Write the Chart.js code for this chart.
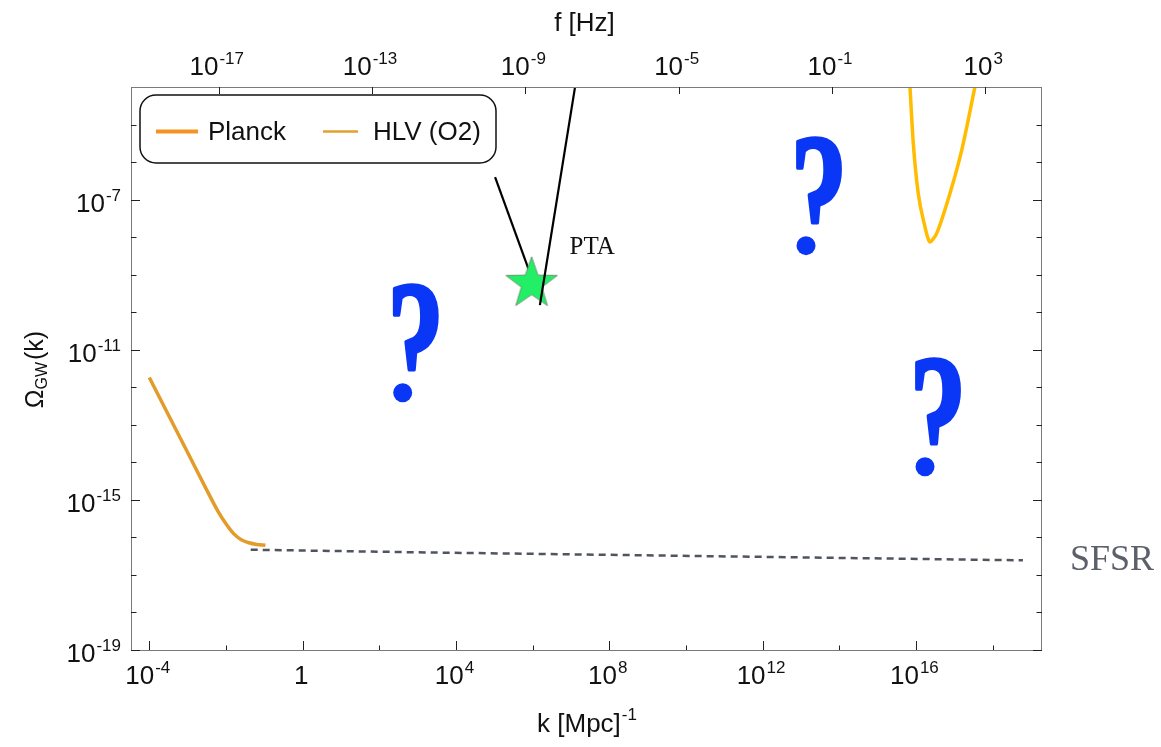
<!DOCTYPE html>
<html><head><meta charset="utf-8">
<script src="https://cdn.jsdelivr.net/npm/chart.js@4/dist/chart.umd.min.js"></script>
<style>html,body{margin:0;padding:0;background:#fff;}#wrap{width:1161px;height:747px;position:relative;}</style>
</head><body><div id="wrap"><canvas id="c" width="1161" height="747"></canvas></div>
<script>
// ---------- data (k in Mpc^-1, Omega_GW) ----------
const planckK = [1e-4, 3.16e-4, 1e-3, 3.16e-3, 6.31e-3, 1e-2, 1.58e-2, 2.51e-2, 3.98e-2, 6.31e-2, 0.107];
const planckOmega = [1.82e-12, 1.82e-13, 1.82e-14, 1.82e-15, 4.8e-16, 2.3e-16, 1.26e-16, 8.7e-17, 7.2e-17, 6.5e-17, 6.2e-17];
const sfsrK = [0.0442, 1585, 6.2e18];
const sfsrOmega = [4.7e-17, 3.98e-17, 2.45e-17];
const hlvK = [6.92e15, 8.55e15, 1.15e16, 1.73e16, 2.07e16, 2.33e16, 2.82e16, 3.48e16, 7.76e16, 1.57e17, 3.63e17];
const hlvOmega = [1.26e-4, 3.16e-6, 1.48e-7, 1.86e-8, 9.3e-9, 7.4e-9, 8.9e-9, 1.26e-8, 1.48e-7, 2.09e-6, 1.26e-4];
const ptaLine1K = [1.05e5, 8.55e5];
const ptaLine1Omega = [3.98e-7, 1.1e-9];
const ptaLine2K = [1.28e7, 1.55e6];
const ptaLine2Omega = [1e-4, 1.55e-10];
const ptaStarK = [9.42e5];
const ptaStarOmega = [5.71e-10];
const questionK = [408, 1.36e13, 1.73e16];
const questionOmega = [3.98e-13, 3.31e-9, 4.24e-15];
// ticks
const kMajorExp = [-4, 0, 4, 8, 12, 16];
const kMinorExp = [-2, 2, 6, 10, 14, 18];
const omegaMajorExp = [-7, -11, -15, -19];
const omegaMinorExp = [-5, -6, -8, -9, -10, -12, -13, -14, -16, -17, -18];
const fMajorExp = [-17, -13, -9, -5, -1, 3];
const fPerK = 1.546e-15; // Hz per Mpc^-1
const kMin = 3.33e-5, kMax = 1.95e19, omegaMin = 1e-19, omegaMax = 1e-4;
const legendLabels = ['Planck', 'HLV (O2)'];

const FONT = "'Liberation Sans', Arial, sans-serif";
const SERIF = "'Liberation Serif', 'Times New Roman', serif";

function pts(ks, vs) { return ks.map((k, i) => ({x: k, y: vs[i]})); }

function makeStar(R) {
  const c = document.createElement('canvas');
  const s = Math.ceil(2 * R + 4);
  c.width = s; c.height = s;
  const g = c.getContext('2d');
  g.translate(s / 2, s / 2);
  g.beginPath();
  for (let i = 0; i < 10; i++) {
    const r = i % 2 ? R * 0.40 : R;
    const a = -Math.PI / 2 + i * Math.PI / 5;
    g.lineTo(r * Math.cos(a), r * Math.sin(a));
  }
  g.closePath();
  g.fillStyle = '#22EE66';
  g.fill();
  g.strokeStyle = 'rgba(110,140,115,0.9)';
  g.lineWidth = 1;
  g.stroke();
  return c;
}

function drawPow(ctx, exp, x, y, align) {
  const big = '26px ' + FONT, small = '17px ' + FONT;
  const baseTxt = exp === 0 ? '1' : '10';
  const supTxt = exp === 0 ? '' : String(exp);
  ctx.font = big; const w1 = ctx.measureText(baseTxt).width;
  ctx.font = small; const w2 = supTxt ? ctx.measureText(supTxt).width + 1 : 0;
  const tot = w1 + w2;
  const x0 = align === 'center' ? x - tot / 2 : x - tot;
  ctx.textAlign = 'left'; ctx.textBaseline = 'alphabetic';
  ctx.font = big; ctx.fillText(baseTxt, x0, y);
  if (supTxt) { ctx.font = small; ctx.fillText(supTxt, x0 + w1 + 1, y - 11); }
}

const decor = {
  id: 'decor',
  afterDatasetsDraw(chart) {
    const ctx = chart.ctx;
    const xs = chart.scales.x, ys = chart.scales.y, xt = chart.scales.xTop;
    const a = chart.chartArea;
    ctx.save();
    // question marks (glyph hook + round dot)
    const qColor = '#0A37F5';
    questionK.forEach((k, i) => {
      const px = xs.getPixelForValue(k), py = ys.getPixelForValue(questionOmega[i]);
      ctx.save();
      ctx.beginPath(); ctx.rect(px - 60, py - 160, 140, 160 - 28); ctx.clip();
      ctx.translate(px + 13, py + 1);
      ctx.scale(0.64, 1);
      ctx.font = 'bold 178px ' + SERIF;
      ctx.textAlign = 'center'; ctx.textBaseline = 'alphabetic';
      ctx.fillStyle = qColor; ctx.strokeStyle = qColor; ctx.lineWidth = 4; ctx.lineJoin = 'round';
      ctx.fillText('?', 0, 0);
      ctx.strokeText('?', 0, 0);
      ctx.restore();
      ctx.fillStyle = qColor;
      ctx.beginPath(); ctx.arc(px, py - 9.5, 9.5, 0, Math.PI * 2); ctx.fill();
    });
    // PTA label
    const sx = xs.getPixelForValue(ptaStarK[0]), sy = ys.getPixelForValue(ptaStarOmega[0]);
    ctx.fillStyle = '#111';
    ctx.font = '25px ' + SERIF;
    ctx.textAlign = 'left'; ctx.textBaseline = 'alphabetic';
    ctx.fillText('PTA', sx + 38, sy - 30);
    // SFSR label
    const ey = ys.getPixelForValue(sfsrOmega[sfsrOmega.length - 1]);
    ctx.fillStyle = '#5b606a';
    ctx.font = '36px ' + SERIF;
    ctx.fillText('SFSR', a.right + 28, ey + 10);

    // frame
    ctx.strokeStyle = '#7a7a7a'; ctx.lineWidth = 1;
    ctx.strokeRect(a.left + 0.5, a.top + 0.5, a.right - a.left - 1, a.bottom - a.top);
    // ticks
    ctx.strokeStyle = '#222'; ctx.lineWidth = 1;
    ctx.beginPath();
    kMajorExp.forEach(e => { const p = Math.round(xs.getPixelForValue(Math.pow(10, e))) + 0.5; ctx.moveTo(p, a.bottom); ctx.lineTo(p, a.bottom - 9); });
    kMinorExp.forEach(e => { const p = Math.round(xs.getPixelForValue(Math.pow(10, e))) + 0.5; ctx.moveTo(p, a.bottom); ctx.lineTo(p, a.bottom - 4.5); });
    fMajorExp.forEach(e => { const p = Math.round(xt.getPixelForValue(Math.pow(10, e))) + 0.5; ctx.moveTo(p, a.top); ctx.lineTo(p, a.top + 7); });
    omegaMajorExp.forEach(e => { const p = Math.round(ys.getPixelForValue(Math.pow(10, e))) + 0.5; ctx.moveTo(a.left, p); ctx.lineTo(a.left + 9, p); ctx.moveTo(a.right, p); ctx.lineTo(a.right - 9, p); });
    omegaMinorExp.forEach(e => { const p = Math.round(ys.getPixelForValue(Math.pow(10, e))) + 0.5; ctx.moveTo(a.left, p); ctx.lineTo(a.left + 5.5, p); ctx.moveTo(a.right, p); ctx.lineTo(a.right - 5.5, p); });
    ctx.stroke();

    // tick labels
    ctx.fillStyle = '#111';
    kMajorExp.forEach(e => drawPow(ctx, e, xs.getPixelForValue(Math.pow(10, e)) - 1.5, a.bottom + 34, 'center'));
    fMajorExp.forEach(e => drawPow(ctx, e, xt.getPixelForValue(Math.pow(10, e)) - 2, a.top - 12, 'center'));
    omegaMajorExp.forEach(e => drawPow(ctx, e, a.left - 10, ys.getPixelForValue(Math.pow(10, e)) + 12, 'right'));

    // axis titles
    const cx = (a.left + a.right) / 2;
    ctx.font = '26px ' + FONT; ctx.textAlign = 'center';
    ctx.fillText('f [Hz]', cx - 2, 31);
    // bottom title with superscript
    ctx.font = '26px ' + FONT;
    const t1 = 'k [Mpc]'; const w1 = ctx.measureText(t1).width;
    ctx.font = '17px ' + FONT; const w2 = ctx.measureText('-1').width;
    let x0 = cx - (w1 + w2) / 2;
    ctx.textAlign = 'left';
    ctx.font = '26px ' + FONT; ctx.fillText(t1, x0, 732);
    ctx.font = '17px ' + FONT; ctx.fillText('-1', x0 + w1 + 1, 720);
    // y title rotated
    ctx.save();
    ctx.translate(43, (a.top + a.bottom) / 2 + 1);
    ctx.rotate(-Math.PI / 2);
    ctx.font = '25px ' + FONT; const wa = ctx.measureText('\u03A9').width; const wc = ctx.measureText('(k)').width;
    ctx.font = '16px ' + FONT; const wb = ctx.measureText('GW').width;
    let tx = -(wa + wb + wc + 2) / 2;
    ctx.font = '25px ' + FONT; ctx.fillText('\u03A9', tx, 0); tx += wa;
    ctx.font = '16px ' + FONT; ctx.fillText('GW', tx, 4); tx += wb + 2;
    ctx.font = '25px ' + FONT; ctx.fillText('(k)', tx, 0);
    ctx.restore();

    // legend
    ctx.fillStyle = '#fff';
    ctx.strokeStyle = '#111'; ctx.lineWidth = 1.5;
    ctx.beginPath(); ctx.roundRect(140, 95, 356, 68, 16); ctx.fill(); ctx.stroke();
    ctx.lineCap = 'butt';
    ctx.strokeStyle = '#F39322'; ctx.lineWidth = 4;
    ctx.beginPath(); ctx.moveTo(156, 131.5); ctx.lineTo(198, 131.5); ctx.stroke();
    ctx.strokeStyle = '#E3A02C'; ctx.lineWidth = 2.5;
    ctx.beginPath(); ctx.moveTo(323, 131.5); ctx.lineTo(358, 131.5); ctx.stroke();
    ctx.fillStyle = '#111'; ctx.font = '26px ' + FONT; ctx.textAlign = 'left';
    ctx.fillText(legendLabels[0], 208, 140);
    ctx.fillText(legendLabels[1], 373, 140);
    ctx.restore();
  }
};

const starImg = makeStar(27);

new Chart(document.getElementById('c'), {
  type: 'line',
  data: {
    datasets: [
      {label: 'PTA2', data: pts(ptaLine2K, ptaLine2Omega), borderColor: '#000', borderWidth: 2.2, pointRadius: 0, order: 0},
      {label: 'PTA', data: pts(ptaStarK, ptaStarOmega), showLine: false, pointStyle: starImg, pointRadius: 27, order: 1},
      {label: 'PTA1', data: pts(ptaLine1K, ptaLine1Omega), borderColor: '#000', borderWidth: 2.2, pointRadius: 0, order: 2},
      {label: legendLabels[0], data: pts(planckK, planckOmega), borderColor: '#E39B2A', borderWidth: 3.5, pointRadius: 0, cubicInterpolationMode: 'monotone', order: 3},
      {label: 'SFSR', data: pts(sfsrK, sfsrOmega), borderColor: '#4f545e', borderWidth: 2.5, borderDash: [7, 5], pointRadius: 0, order: 4},
      {label: legendLabels[1], data: pts(hlvK, hlvOmega), borderColor: '#FFBC00', borderWidth: 3.5, pointRadius: 0, cubicInterpolationMode: 'monotone', order: 5}
    ]
  },
  options: {
    responsive: false,
    animation: false,
    events: [],
    layout: {padding: {left: 131, right: 119, top: 87, bottom: 97}},
    plugins: {legend: {display: false}, tooltip: {enabled: false}},
    scales: {
      x: {type: 'logarithmic', min: kMin, max: kMax, display: false},
      xTop: {type: 'logarithmic', position: 'top', min: kMin * fPerK, max: kMax * fPerK, display: false},
      y: {type: 'logarithmic', min: omegaMin, max: omegaMax, display: false}
    }
  },
  plugins: [decor]
});
</script>
</body></html>
